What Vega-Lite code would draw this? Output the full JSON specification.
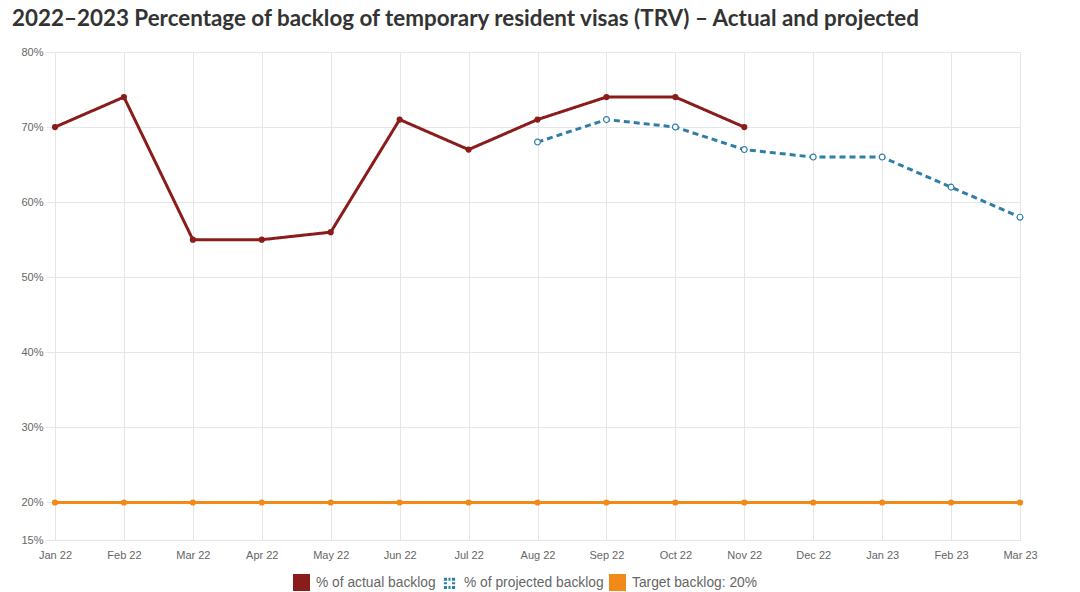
{
  "$schema": "https://vega.github.io/schema/vega-lite/v6.json",
  "autosize": "none",
  "width": 965,
  "height": 488,
  "padding": {"left": 55, "top": 52, "right": 60, "bottom": 52},
  "background": "white",
  "title": {
    "text": "2022–2023 Percentage of backlog of temporary resident visas (TRV) – Actual and projected",
    "anchor": "start",
    "frame": "group",
    "dx": -43,
    "offset": 16,
    "font": "Lato",
    "fontSize": 22.4,
    "fontWeight": "bold",
    "color": "#333333"
  },
  "config": {
    "view": {"stroke": null},
    "axis": {
      "labelFont": "Liberation Sans",
      "labelFontSize": 11,
      "labelColor": "#666666",
      "gridColor": "#e6e6e6",
      "domainColor": "#e6e6e6",
      "tickColor": "#e6e6e6",
      "title": null
    }
  },
  "data": {
    "values": [
      {"month": "Jan 22", "series": "% of actual backlog", "value": 70},
      {"month": "Feb 22", "series": "% of actual backlog", "value": 74},
      {"month": "Mar 22", "series": "% of actual backlog", "value": 55},
      {"month": "Apr 22", "series": "% of actual backlog", "value": 55},
      {"month": "May 22", "series": "% of actual backlog", "value": 56},
      {"month": "Jun 22", "series": "% of actual backlog", "value": 71},
      {"month": "Jul 22", "series": "% of actual backlog", "value": 67},
      {"month": "Aug 22", "series": "% of actual backlog", "value": 71},
      {"month": "Sep 22", "series": "% of actual backlog", "value": 74},
      {"month": "Oct 22", "series": "% of actual backlog", "value": 74},
      {"month": "Nov 22", "series": "% of actual backlog", "value": 70},
      {"month": "Aug 22", "series": "% of projected backlog", "value": 68},
      {"month": "Sep 22", "series": "% of projected backlog", "value": 71},
      {"month": "Oct 22", "series": "% of projected backlog", "value": 70},
      {"month": "Nov 22", "series": "% of projected backlog", "value": 67},
      {"month": "Dec 22", "series": "% of projected backlog", "value": 66},
      {"month": "Jan 23", "series": "% of projected backlog", "value": 66},
      {"month": "Feb 23", "series": "% of projected backlog", "value": 62},
      {"month": "Mar 23", "series": "% of projected backlog", "value": 58},
      {"month": "Jan 22", "series": "Target backlog: 20%", "value": 20},
      {"month": "Feb 22", "series": "Target backlog: 20%", "value": 20},
      {"month": "Mar 22", "series": "Target backlog: 20%", "value": 20},
      {"month": "Apr 22", "series": "Target backlog: 20%", "value": 20},
      {"month": "May 22", "series": "Target backlog: 20%", "value": 20},
      {"month": "Jun 22", "series": "Target backlog: 20%", "value": 20},
      {"month": "Jul 22", "series": "Target backlog: 20%", "value": 20},
      {"month": "Aug 22", "series": "Target backlog: 20%", "value": 20},
      {"month": "Sep 22", "series": "Target backlog: 20%", "value": 20},
      {"month": "Oct 22", "series": "Target backlog: 20%", "value": 20},
      {"month": "Nov 22", "series": "Target backlog: 20%", "value": 20},
      {"month": "Dec 22", "series": "Target backlog: 20%", "value": 20},
      {"month": "Jan 23", "series": "Target backlog: 20%", "value": 20},
      {"month": "Feb 23", "series": "Target backlog: 20%", "value": 20},
      {"month": "Mar 23", "series": "Target backlog: 20%", "value": 20}
    ]
  },
  "encoding": {
    "x": {
      "field": "month",
      "type": "ordinal",
      "sort": ["Jan 22","Feb 22","Mar 22","Apr 22","May 22","Jun 22","Jul 22","Aug 22","Sep 22","Oct 22","Nov 22","Dec 22","Jan 23","Feb 23","Mar 23"],
      "scale": {"type": "point", "padding": 0},
      "axis": {"labelAngle": 0, "grid": true, "ticks": false, "labelPadding": 9, "domain": true}
    },
    "y": {
      "field": "value",
      "type": "quantitative",
      "scale": {"domain": [15, 80], "nice": false, "zero": false},
      "axis": {
        "values": [15, 20, 30, 40, 50, 60, 70, 80],
        "labelExpr": "datum.value + '%'",
        "tickSize": 9,
        "labelPadding": 3,
        "domain": false
      }
    },
    "color": {
      "field": "series",
      "type": "nominal",
      "scale": {
        "domain": ["% of actual backlog", "% of projected backlog", "Target backlog: 20%"],
        "range": ["#8b1c1c", "#2f7ea6", "#f28a1a"]
      }
    }
  },
  "layer": [
    {
      "mark": {"type": "line", "strokeWidth": 3},
      "encoding": {
        "strokeDash": {
          "field": "series",
          "type": "nominal",
          "scale": {
            "domain": ["% of actual backlog", "% of projected backlog", "Target backlog: 20%"],
            "range": [[1, 0], [6, 4], [1, 0]]
          },
          "legend": null
        },
        "color": {
          "field": "series",
          "type": "nominal",
          "legend": {
            "title": null,
            "orient": "none",
            "direction": "horizontal",
            "legendX": 238,
            "legendY": 522,
            "symbolType": "square",
            "symbolSize": 289,
            "labelFont": "Liberation Sans",
            "labelFontSize": 13.8,
            "labelColor": "#666666",
            "labelOffset": 6,
            "columnPadding": 5,
            "encode": {
              "symbols": {
                "update": {
                  "shape": {"signal": "datum.value === '% of projected backlog' ? 'M-0.66,-0.66H-0.28V-0.3H-0.66Z M0.28,-0.66H0.66V-0.3H0.28Z M-0.66,0.3H-0.28V0.66H-0.66Z M0.28,0.3H0.66V0.66H0.28Z M-0.66,-0.12H-0.3V0.12H-0.66Z M0.3,-0.12H0.66V0.12H0.3Z M-0.12,-0.66H0.12V-0.3H-0.12Z M-0.12,0.3H0.12V0.66H-0.12Z' : 'square'"},
                  "fill": {"signal": "scale('color', datum.value)"},
                  "stroke": {"value": "transparent"},
                  "strokeWidth": {"value": 0},
                  "strokeDash": {"value": [1, 0]},
                  "opacity": {"value": 1}
                }
              }
            }
          }
        }
      }
    },
    {
      "transform": [{"filter": "datum.series !== '% of projected backlog'"}],
      "mark": {"type": "point", "filled": true, "size": 38, "opacity": 1}
    },
    {
      "transform": [{"filter": "datum.series === '% of projected backlog'"}],
      "mark": {"type": "point", "filled": true, "fill": "white", "size": 34, "strokeWidth": 1.2, "opacity": 1},
      "encoding": {"stroke": {"field": "series", "type": "nominal", "scale": {"domain": ["% of projected backlog"], "range": ["#2f7ea6"]}, "legend": null}}
    }
  ]
}
